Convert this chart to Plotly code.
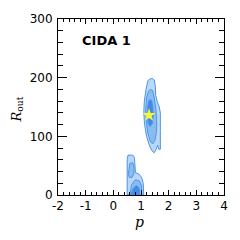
import plotly.graph_objects as go

# Contour polygons (p, R_out)
upper_outer_p = [1.30, 1.40, 1.48, 1.52, 1.53, 1.58, 1.66, 1.70, 1.70, 1.71, 1.70, 1.64, 1.60, 1.55, 1.48, 1.40, 1.30, 1.20, 1.13, 1.10, 1.12, 1.18, 1.25, 1.30]
upper_outer_r = [197, 199, 196, 185, 170, 160, 150, 140, 110, 85, 78, 78, 85, 78, 72, 75, 85, 100, 120, 140, 160, 180, 195, 197]
upper_mid_p = [1.35, 1.42, 1.48, 1.54, 1.57, 1.56, 1.50, 1.42, 1.33, 1.25, 1.19, 1.17, 1.20, 1.27, 1.35]
upper_mid_r = [180, 178, 165, 145, 125, 108, 93, 87, 92, 105, 125, 145, 165, 177, 180]
upper_dark_p = [1.33, 1.39, 1.43, 1.44, 1.41, 1.33, 1.26, 1.23, 1.24, 1.28, 1.33]
upper_dark_r = [163, 160, 150, 135, 122, 117, 122, 135, 150, 160, 163]

lower_outer_p = [0.50, 0.49, 0.50, 0.53, 0.70, 0.76, 0.78, 0.80, 0.92, 1.02, 1.08, 1.10, 1.10, 0.50]
lower_outer_r = [0, 30, 60, 68, 68, 64, 45, 38, 36, 30, 20, 5, 0, 0]
lower_mid1_p = [0.54, 0.60, 0.70, 0.75, 0.74, 0.68, 0.58, 0.54, 0.54]
lower_mid1_r = [35, 54, 55, 48, 36, 30, 30, 35, 35]
lower_mid2_p = [0.60, 0.66, 0.80, 0.94, 1.02, 1.04, 1.03, 0.60]
lower_mid2_r = [0, 18, 26, 24, 16, 6, 0, 0]
lower_dark_p = [0.64, 0.70, 0.82, 0.92, 0.95, 0.94, 0.64]
lower_dark_r = [0, 10, 16, 13, 6, 0, 0]

best_p = [1.29]
best_r = [136]

x_tickvals = [-2, -1, 0, 1, 2, 3, 4]
x_ticktext = ["-2", "-1", "0", "1", "2", "3", "4"]
y_tickvals = [0, 100, 200, 300]
y_ticktext = ["0", "100", "200", "300"]

LIGHT = "#b9d7f8"
MID = "#8abcf1"
DARK = "#3f8ce4"
EDGE = "#4d96e8"

W, H = 240, 240
L, R, T, B = 58, 14, 17, 45
pw, ph = W - L - R, H - T - B

fig = go.Figure()

def poly(px, ry, fill):
    fig.add_trace(go.Scatter(x=px, y=ry, mode="lines", fill="toself",
                             fillcolor=fill, line=dict(color=EDGE, width=1),
                             hoverinfo="skip", showlegend=False))

poly(upper_outer_p, upper_outer_r, LIGHT)
poly(upper_mid_p, upper_mid_r, MID)
poly(upper_dark_p, upper_dark_r, DARK)
poly(lower_outer_p, lower_outer_r, LIGHT)
poly(lower_mid1_p, lower_mid1_r, MID)
poly(lower_mid2_p, lower_mid2_r, MID)
poly(lower_dark_p, lower_dark_r, DARK)

fig.add_trace(go.Scatter(x=best_p, y=best_r, mode="markers",
                         marker=dict(symbol="star", size=10, color="#f8f83a",
                                     line=dict(width=0)),
                         hoverinfo="skip", showlegend=False))

fig.add_annotation(x=0.132, y=0.88, xref="paper", yref="paper", text="<b>CIDA 1</b>",
                   showarrow=False, xanchor="left", yanchor="middle",
                   font=dict(family="DejaVu Sans", size=13, color="black"))

# axis titles as annotations (pixel positions converted to paper coords)
fig.add_annotation(x=(140 - L) / pw, y=(H - 222 - B) / ph, xref="paper", yref="paper",
                   text="<i>p</i>", showarrow=False, xanchor="center", yanchor="middle",
                   font=dict(family="DejaVu Serif", size=14, color="black"))
fig.add_annotation(x=(17 - L) / pw, y=(H - 108 - B) / ph, xref="paper", yref="paper",
                   text="<i>R</i><sub>out</sub>", showarrow=False,
                   textangle=-90, xanchor="center", yanchor="middle",
                   font=dict(family="DejaVu Serif", size=13, color="black"))

axis_common = dict(showgrid=False, zeroline=False, showline=True, linecolor="black",
                   linewidth=1, mirror="allticks", ticks="inside", tickcolor="black",
                   tickfont=dict(family="DejaVu Sans", size=12, color="black"))

fig.update_xaxes(range=[-2, 4], tickvals=x_tickvals, ticktext=x_ticktext, ticklen=5,
                 minor=dict(dtick=0.2, tick0=0, ticks="inside", ticklen=3, tickcolor="black"),
                 ticklabelstandoff=0,
                 **axis_common)
fig.update_yaxes(range=[0, 300], tickvals=y_tickvals, ticktext=y_ticktext, ticklen=9,
                 minor=dict(dtick=20, tick0=0, ticks="inside", ticklen=5, tickcolor="black"),
                 ticklabelstandoff=2,
                 **axis_common)

fig.update_layout(width=W, height=H, margin=dict(l=L, r=R, t=T, b=B),
                  plot_bgcolor="white", paper_bgcolor="white", showlegend=False,
                  hovermode=False)

fig.write_html("out.html", config={"displayModeBar": False, "staticPlot": True},
               post_script="document.body.style.margin='0px';document.body.style.overflow='hidden';")
